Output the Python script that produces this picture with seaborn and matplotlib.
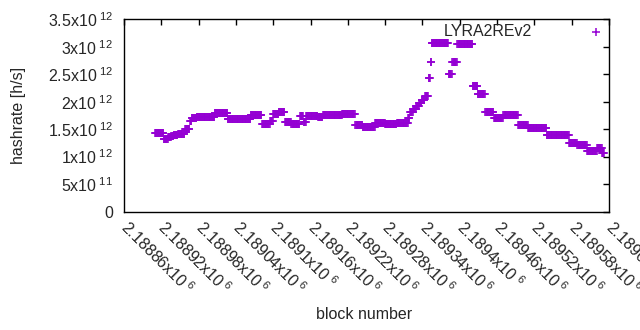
import numpy as np
import pandas as pd
import matplotlib
matplotlib.use("Agg")
import matplotlib.pyplot as plt
import seaborn as sns

# -------------------------------
# DATA - hashrate per block, stored as runs (block where a run starts, value)
# -------------------------------
run_start = [2188910, 2188924, 2188931, 2188936, 2188940, 2188947, 2188958, 2188966,
             2188969, 2188977, 2189006, 2189027, 2189047, 2189064, 2189082, 2189095,
             2189100, 2189109, 2189119, 2189129, 2189143, 2189149, 2189153, 2189172,
             2189180, 2189211, 2189232, 2189244, 2189264, 2189280, 2189299, 2189317,
             2189320, 2189325, 2189330, 2189335, 2189339, 2189344, 2189350, 2189353,
             2189355, 2189382, 2189388, 2189396, 2189421, 2189429, 2189441, 2189455,
             2189470, 2189494, 2189510, 2189540, 2189576, 2189589, 2189605, 2189621,
             2189629]
run_rate_e12 = [1.434, 1.315, 1.348, 1.374, 1.392, 1.403, 1.502, 1.641,
                1.709, 1.727, 1.795, 1.690, 1.685, 1.758, 1.599, 1.654,
                1.777, 1.819, 1.630, 1.586, 1.740, 1.630, 1.740, 1.722,
                1.764, 1.777, 1.579, 1.531, 1.617, 1.593, 1.617, 1.700,
                1.810, 1.860, 1.920, 1.970, 2.030, 2.110, 2.440, 2.730,
                3.077, 2.510, 2.720, 3.046, 2.290, 2.140, 1.813, 1.709,
                1.758, 1.575, 1.520, 1.385, 1.245, 1.214, 1.110, 1.159,
                1.068]
last_block = 2189632

x_ticks = [2188860 + 60 * k for k in range(14)]
x_tick_labels = ["2.18886", "2.18892", "2.18898", "2.18904", "2.1891", "2.18916",
                 "2.18922", "2.18928", "2.18934", "2.1894", "2.18946", "2.18952",
                 "2.18958", "2.18964"]
y_ticks = [0, 0.5e12, 1e12, 1.5e12, 2e12, 2.5e12, 3e12, 3.5e12]
y_tick_labels = ["0", "5x10$^{\\ 11}$", "1x10$^{\\ 12}$", "1.5x10$^{\\ 12}$",
                 "2x10$^{\\ 12}$", "2.5x10$^{\\ 12}$", "3x10$^{\\ 12}$", "3.5x10$^{\\ 12}$"]

# decode runs -> one point per block
blocks = np.arange(run_start[0], last_block + 1)
idx = np.searchsorted(run_start, blocks, side="right") - 1
df = pd.DataFrame({"block": blocks, "hashrate": np.array(run_rate_e12)[idx] * 1e12})

# -------------------------------
# PLOT
# -------------------------------
sns.set_style("white")
plt.rcParams["font.family"] = ["Liberation Sans", "DejaVu Sans"]
plt.rcParams["mathtext.fontset"] = "custom"
plt.rcParams["mathtext.rm"] = "Liberation Sans"
plt.rcParams["mathtext.it"] = "Liberation Sans:italic"
fs = 11.5

fig = plt.figure(figsize=(6.4, 3.3), dpi=100)
ax = fig.add_axes([124 / 640, 1 - 211.5 / 330, 485 / 640, 192.2 / 330])

sns.scatterplot(data=df, x="block", y="hashrate", marker="+", s=30, linewidth=1.1,
                color="#9400d3", label="LYRA2REv2", ax=ax)

ax.set_xlim(2188860, 2189640)
ax.set_ylim(0, 3.5e12)
ax.set_xticks(x_ticks)
ax.set_xticklabels([t + "x10$^{\\ 6}$" for t in x_tick_labels], rotation=-45,
                   ha="left", va="center", rotation_mode="anchor", fontsize=fs)
ax.set_yticks(y_ticks)
ax.set_yticklabels(y_tick_labels, fontsize=fs)
ax.tick_params(direction="in", length=4, width=1, top=True, right=True,
               labeltop=False, labelright=False, color="black")
ax.tick_params(axis="x", pad=9)
ax.tick_params(axis="y", pad=8)
for sp in ax.spines.values():
    sp.set_color("black")
    sp.set_linewidth(1)

ax.set_xlabel("block number", fontsize=fs)
ax.set_ylabel("hashrate [h/s]", fontsize=fs)
ax.xaxis.set_label_coords(0.495, -0.497)
ax.yaxis.set_label_coords(-0.202, 0.502)

ax.legend(loc="center right", bbox_to_anchor=(612 / 640, 1 - 32 / 330),
          bbox_transform=fig.transFigure, frameon=False, markerfirst=False,
          handlelength=2, handletextpad=3.0, borderpad=0, borderaxespad=0,
          fontsize=fs)

fig.savefig("out.png", dpi=100)
